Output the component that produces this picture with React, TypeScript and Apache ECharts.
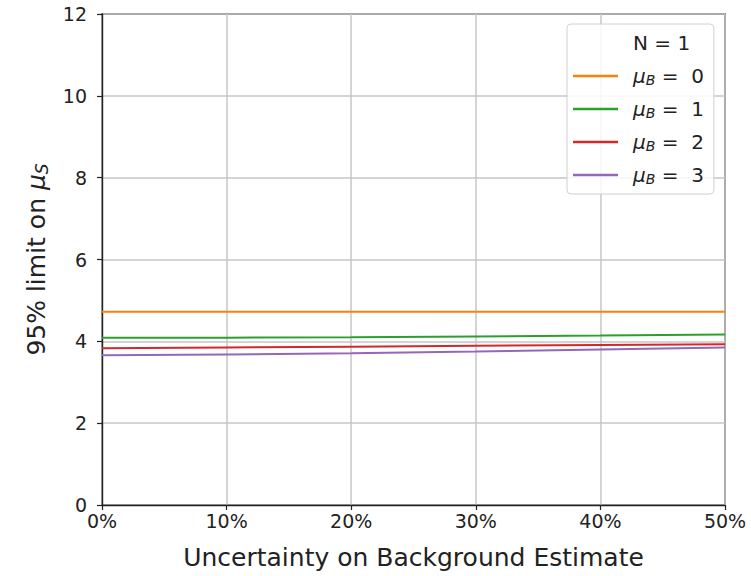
import React, { useEffect, useRef } from "react";
import * as echarts from "echarts";

const xValues = [0, 10, 20, 30, 40, 50];
const seriesNames = ["μB = 0", "μB = 1", "μB = 2", "μB = 3"];
const muB0 = [4.72, 4.72, 4.72, 4.72, 4.72, 4.72];
const muB1 = [4.09, 4.09, 4.1, 4.12, 4.14, 4.17];
const muB2 = [3.83, 3.85, 3.87, 3.89, 3.91, 3.93];
const muB3 = [3.66, 3.68, 3.71, 3.75, 3.8, 3.85];
const seriesColors = ["#ff7f0e", "#2ca02c", "#d62728", "#9467bd"];
const legendTitle = "N = 1";

const FONT = "DejaVu Sans";

export default function App() {
  const ref = useRef<HTMLDivElement>(null);
  useEffect(() => {
    if (!ref.current) return;
    const chart = echarts.init(ref.current, undefined, { renderer: "svg" });
    const values = [muB0, muB1, muB2, muB3];
    const lines = seriesNames.map((name, i) => ({
      name,
      type: "line" as const,
      data: xValues.map((x, j) => [x, values[i][j]]),
      symbol: "none",
      showSymbol: false,
      color: seriesColors[i],
      lineStyle: { width: 2, color: seriesColors[i] },
    }));
    const rich = {
      g: { width: 10, fontFamily: FONT, fontSize: 20, lineHeight: 22 },
      m: { fontFamily: FONT, fontStyle: "italic", fontSize: 20, color: "#222", lineHeight: 22 },
      b: { fontFamily: FONT, fontStyle: "italic", fontSize: 14, color: "#222", padding: [8, 0, 0, 0], lineHeight: 22 },
      n: { fontFamily: FONT, fontSize: 20, color: "#222", lineHeight: 22 },
    };
    chart.setOption({
      animation: false,
      backgroundColor: "#ffffff",
      grid: {
        left: 102,
        right: 26,
        top: 14,
        bottom: 71,
        show: true,
        borderColor: "#222",
        borderWidth: 1.4,
        containLabel: false,
      },
      xAxis: {
        type: "value",
        min: 0,
        max: 50,
        interval: 10,
        name: "Uncertainty on Background Estimate",
        nameLocation: "middle",
        nameGap: 40,
        nameTextStyle: { fontFamily: FONT, fontSize: 25, color: "#222" },
        axisLine: { show: true, lineStyle: { color: "#222", width: 1.4 } },
        axisTick: { show: true, inside: false, length: 5, lineStyle: { color: "#222", width: 1.2 } },
        axisLabel: {
          formatter: "{value}%",
          fontFamily: FONT,
          fontSize: 19,
          color: "#222",
          margin: 6,
        },
        splitLine: { show: true, lineStyle: { color: "#c6c6c6", width: 1.5 } },
      },
      yAxis: {
        type: "value",
        min: 0,
        max: 12,
        interval: 2,
        name: "95% limit on {m|μ}{s|S}",
        nameLocation: "middle",
        nameGap: 52,
        nameRotate: 90,
        nameTextStyle: {
          fontFamily: FONT,
          fontSize: 25,
          color: "#222",
          rich: {
            m: { fontFamily: FONT, fontStyle: "italic", fontSize: 25, color: "#222" },
            s: { fontFamily: FONT, fontStyle: "italic", fontSize: 17, color: "#222", padding: [10, 0, 0, 0] },
          },
        },
        axisLine: { show: true, lineStyle: { color: "#222", width: 1.4 } },
        axisTick: { show: true, inside: false, length: 5, lineStyle: { color: "#222", width: 1.2 } },
        axisLabel: { fontFamily: FONT, fontSize: 19, color: "#222", margin: 15 },
        splitLine: { show: true, lineStyle: { color: "#c6c6c6", width: 1.5 } },
      },
      legend: {
        show: true,
        orient: "vertical",
        left: 567,
        top: 24,
        padding: [8, 10, 8, 6],
        itemGap: 11,
        itemWidth: 45,
        itemHeight: 2.5,
        icon: "rect",
        backgroundColor: "rgba(255,255,255,0.85)",
        borderColor: "#d0d0d0",
        borderWidth: 1,
        borderRadius: 4,
        selectedMode: false,
        data: [legendTitle, ...seriesNames],
        formatter: (name: string) => {
          if (name === legendTitle) return "{g|}{n|" + name + "}";
          const v = name.split("=")[1].trim();
          return "{g|}{m|μ}{b|B}{n| =  " + v + "}";
        },
        textStyle: { fontFamily: FONT, fontSize: 20, color: "#222", lineHeight: 22, rich },
      },
      series: [
        {
          name: legendTitle,
          type: "line",
          data: [],
          symbol: "none",
          color: "rgba(0,0,0,0)",
          lineStyle: { width: 0, color: "rgba(0,0,0,0)" },
        },
        ...lines,
      ],
    });
    return () => chart.dispose();
  }, []);
  return <div ref={ref} style={{ width: 751, height: 576, position: "absolute", left: 0, top: 0 }} />;
}
